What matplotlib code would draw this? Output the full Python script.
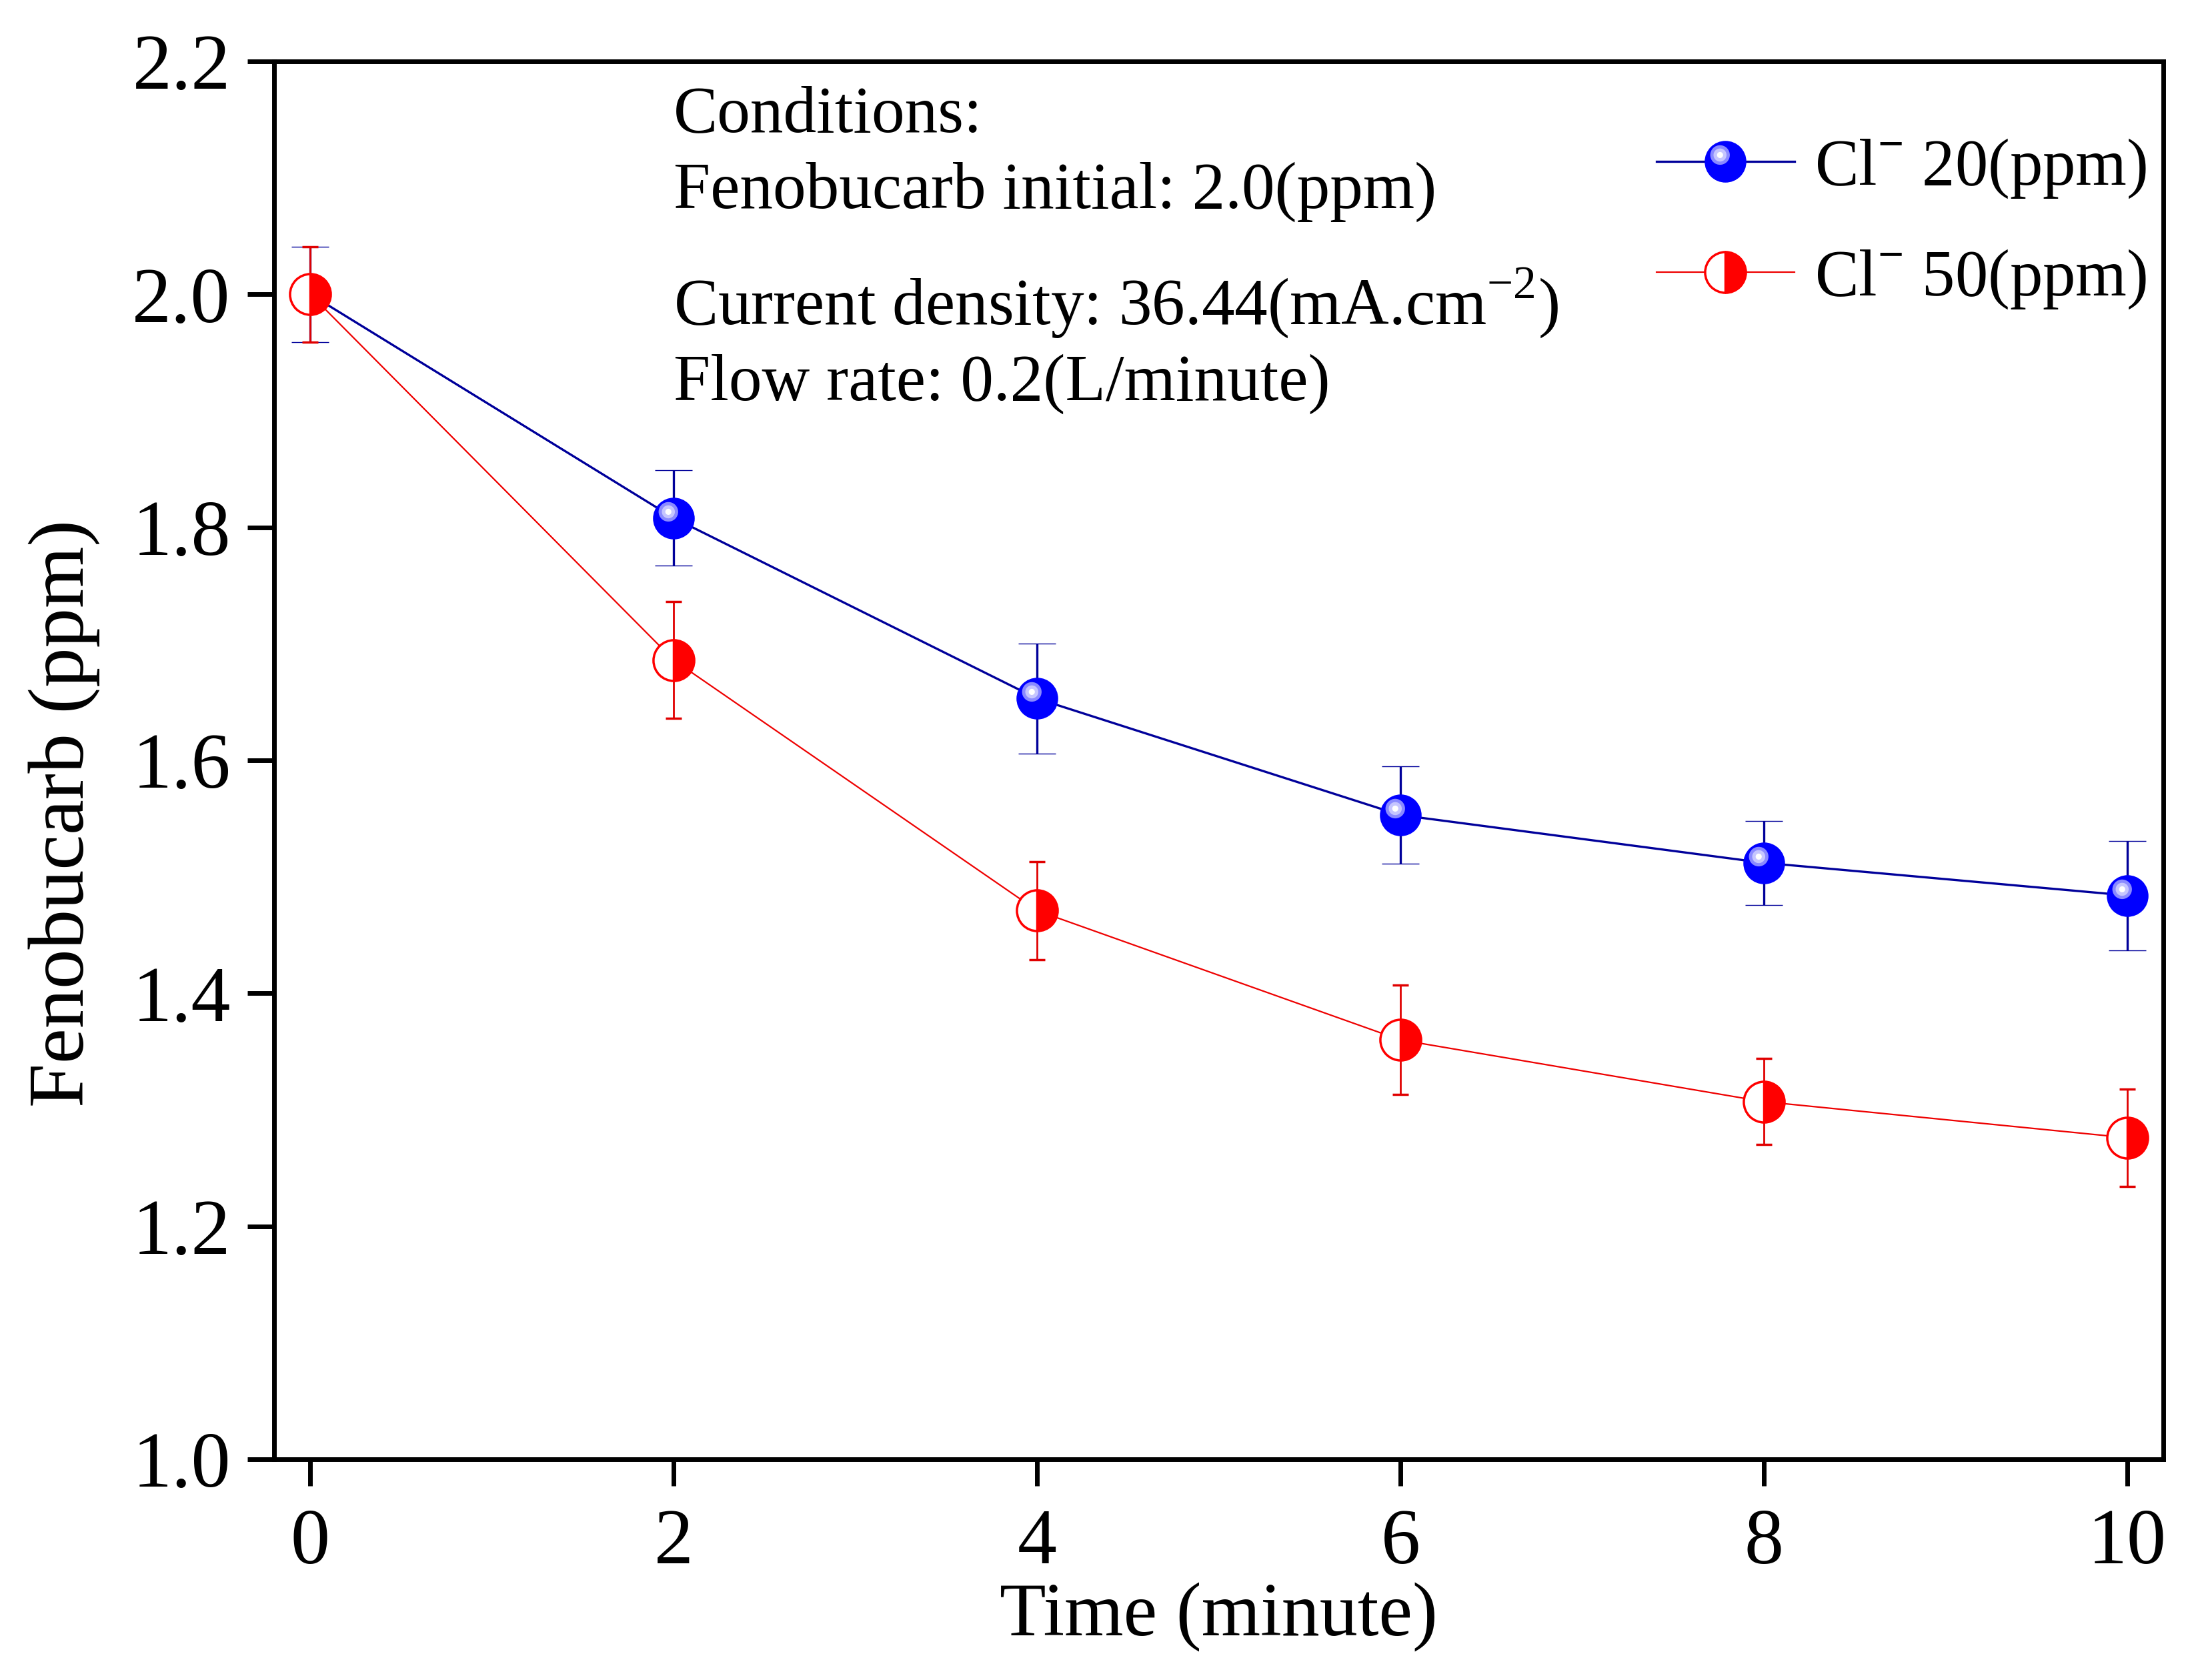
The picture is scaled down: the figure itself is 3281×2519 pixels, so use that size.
import numpy as np
import matplotlib
matplotlib.use("Agg")
import matplotlib.pyplot as plt
from matplotlib.path import Path
from matplotlib.markers import MarkerStyle
from matplotlib.legend_handler import HandlerTuple

plt.rcParams['font.family'] = ['Liberation Serif', 'DejaVu Serif']
plt.rcParams['mathtext.fontset'] = 'custom'
plt.rcParams['mathtext.rm'] = 'Liberation Serif'
plt.rcParams['mathtext.bf'] = 'Liberation Serif:bold'

# data
time_min = [0, 2, 4, 6, 8, 10]
cl20 = [2.000, 1.808, 1.653, 1.553, 1.512, 1.484]
cl20_err = [0.041, 0.041, 0.047, 0.042, 0.036, 0.047]
cl50 = [2.000, 1.686, 1.471, 1.360, 1.307, 1.276]
cl50_err = [0.041, 0.050, 0.042, 0.047, 0.037, 0.042]

series_labels = [r'Cl$^{\mathbf{-}}$ 20(ppm)', r'Cl$^{\mathbf{-}}$ 50(ppm)']
x_ticks = [0, 2, 4, 6, 8, 10]
y_ticks = [1.0, 1.2, 1.4, 1.6, 1.8, 2.0, 2.2]
notes = ['Conditions:',
         'Fenobucarb initial: 2.0(ppm)',
         r'Current density: 36.44(mA.cm$^{\mathregular{-2}}$)',
         'Flow rate: 0.2(L/minute)']

blue = '#0000ff'
navy = '#00009a'
red = '#ff0000'
ms = 44


def highlight_marker(cx, cy, r):
    # off-centre circle used as the glossy spot on the blue balls
    path = Path.circle((cx, cy), r)
    scale = max(abs(cx) + r, abs(cy) + r)
    return MarkerStyle(path), ms * scale


fig = plt.figure(figsize=(32.81, 25.19), dpi=100)
ax = fig.add_axes([0.12527, 0.13140, 0.86346, 0.83208])

eb20 = ax.errorbar(time_min, cl20, yerr=cl20_err, color=navy, lw=2.4,
                   marker='o', ms=ms, mfc=blue, mec=blue, mew=1,
                   ecolor=navy, elinewidth=2.4, capsize=20.5, capthick=2.4,
                   zorder=2)
spots = []
for (cx, cy, r), c in zip([(-0.27, 0.33, 0.48), (-0.27, 0.33, 0.32), (-0.27, 0.33, 0.15)],
                          ['#8a8aff', '#c6c6ff', '#ffffff']):
    mk, size = highlight_marker(cx, cy, r)
    sp, = ax.plot(time_min, cl20, ls='none', marker=mk, ms=size,
                  mfc=c, mec='none', mew=0, zorder=3)
    spots.append(sp)

eb50 = ax.errorbar(time_min, cl50, yerr=cl50_err, color='#ee0000', lw=1.6,
                   marker='o', ms=ms, mfc=red, mfcalt='white', mec=red, mew=2.5,
                   fillstyle='right',
                   ecolor='#e00000', elinewidth=2.0, capsize=8.5, capthick=2.0,
                   zorder=4)

ax.set_xlim(-0.2, 10.2)
ax.set_ylim(1.0, 2.2)
ax.set_xticks(x_ticks)
ax.set_yticks(y_ticks)
ax.set_yticklabels([f'{v:.1f}' for v in y_ticks])
ax.tick_params(axis='both', direction='out', length=29, width=5,
               labelsize=85, top=False, right=False)
ax.tick_params(axis='x', pad=24)
ax.tick_params(axis='y', pad=18)
for sp in ax.spines.values():
    sp.set_linewidth(5)

ax.set_xlabel('Time (minute)', fontsize=82)
ax.xaxis.set_label_coords(0.5, -0.088)
ax.set_ylabel('Fenobucarb (ppm)', fontsize=85.5)
ax.yaxis.set_label_coords(-0.092, 0.462)

note_y = [0.9499, 0.8950, 0.8125, 0.7576]
for txt, yy in zip(notes, note_y):
    ax.text(0.2114, yy, txt, transform=ax.transAxes, fontsize=71.5,
            ha='left', va='baseline')

handles = [tuple([eb20.lines[0]] + spots), eb50.lines[0]]
ax.legend(handles, series_labels, handler_map={tuple: HandlerTuple(ndivide=1, pad=0)},
          loc='upper left', bbox_to_anchor=(0.7317, 0.946), frameon=False,
          fontsize=71, handlelength=2.1, handletextpad=0.3, labelspacing=0.73,
          borderpad=0, borderaxespad=0)

fig.savefig('out.png', dpi=100)
